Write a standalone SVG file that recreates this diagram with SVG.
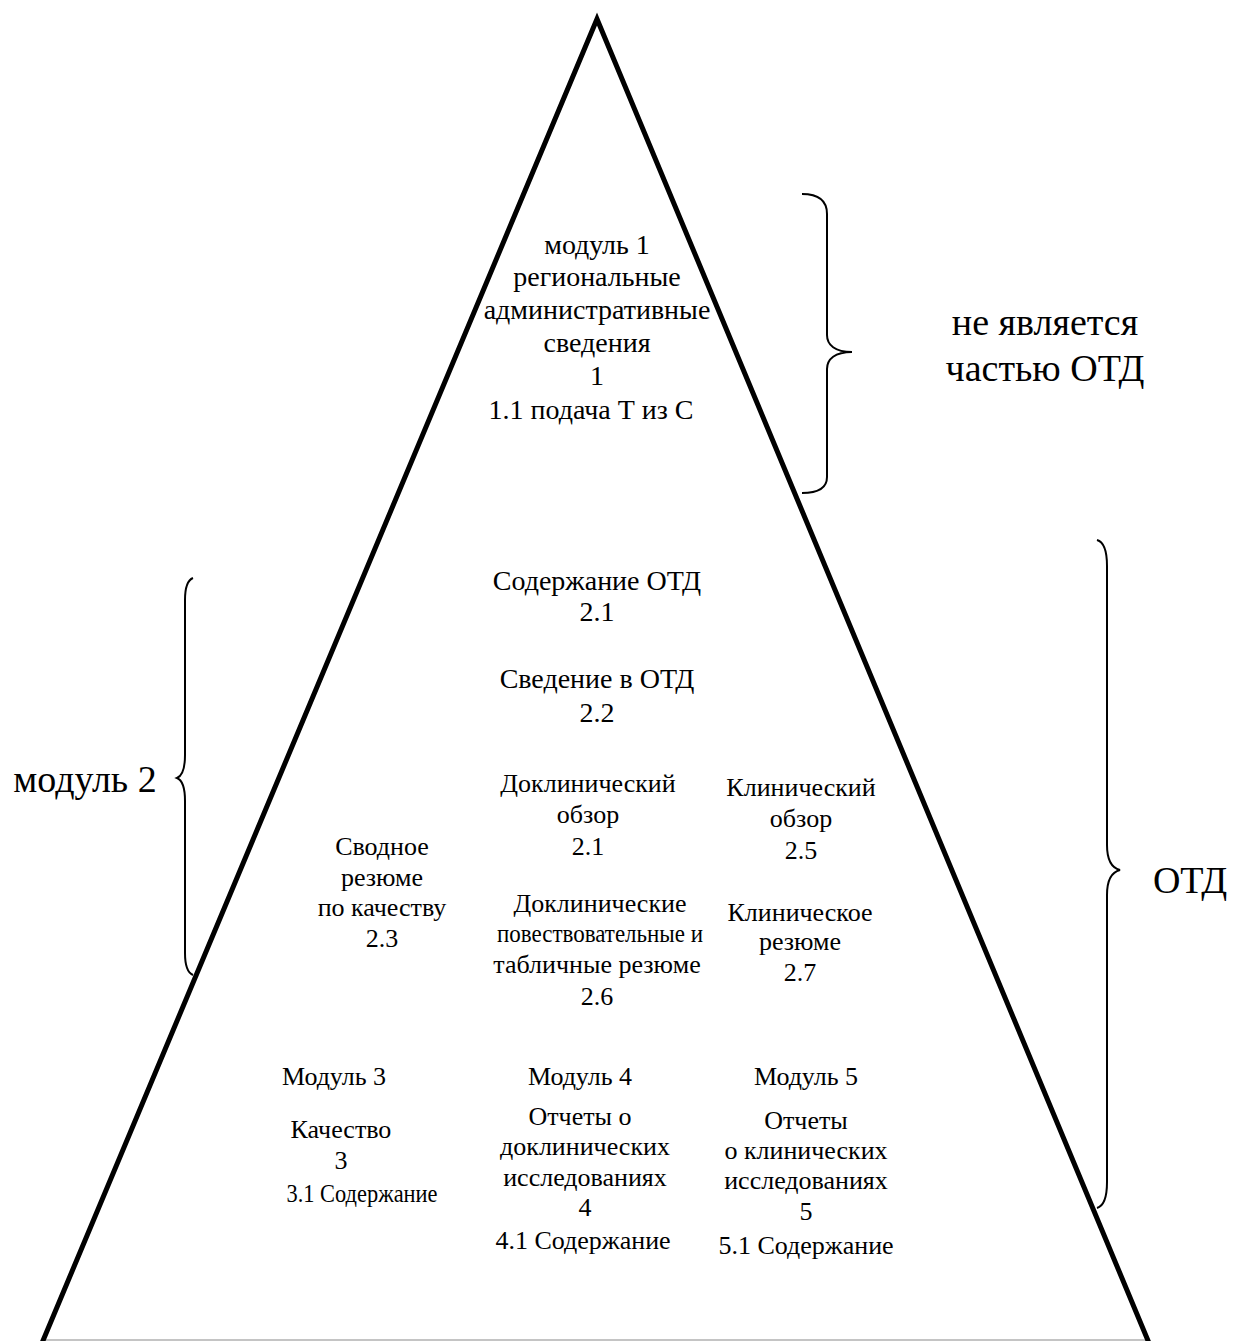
<svg xmlns="http://www.w3.org/2000/svg" width="1234" height="1341" viewBox="0 0 1234 1341">
<style>
  text { font-family: "Liberation Serif", "Times New Roman", serif; fill: #000; text-anchor: middle; }
  .t28 { font-size: 28px; }
  .t26 { font-size: 26px; }
  .big { font-size: 38px; }
  .brace { fill: none; stroke: #000; stroke-width: 2; }
  .tri { fill: none; stroke: #000; stroke-width: 5; stroke-linejoin: miter; stroke-miterlimit: 10; }
</style>
<rect width="1234" height="1341" fill="#fff"/>
<g id="connectors">
  <line x1="44" y1="1340" x2="1146" y2="1340" stroke="#b0b0b0" stroke-width="1.5"/>
  <path class="tri" d="M42,1343 L597,19 L1149,1343"/>
  <path class="brace" d="M802,194 C818,194 827,200 827,214 L827,335 C827,345 835,352 852,352 C835,352 827,359 827,369 L827,477 C827,488 818,493 802,493"/>
  <path class="brace" d="M1097,540 C1104,542 1107,552 1107,566 L1107,845 C1107,860 1112,868 1120,870 C1112,872 1107,880 1107,895 L1107,1182 C1107,1196 1104,1206 1097,1208"/>
  <path class="brace" d="M193,578 C188,580 185,588 185,600 L185,755 C185,770 182,776 177,778 C182,780 185,786 185,801 L185,953 C185,965 188,973 193,975"/>
</g>
<g id="module1">
  <text class="t28" x="597" y="254">модуль 1</text>
  <text class="t28" x="597" y="286">региональные</text>
  <text class="t28" x="597" y="319">административные</text>
  <text class="t28" x="597" y="352">сведения</text>
  <text class="t28" x="597" y="385">1</text>
  <text class="t28" x="591" y="419">1.1 подача Т из С</text>
</g>
<g id="not-part">
  <text class="big" x="1045" y="335">не является</text>
  <text class="big" x="1045" y="381">частью ОТД</text>
</g>
<g id="otd-label">
  <text class="big" x="1190" y="893">ОТД</text>
</g>
<g id="module2-label">
  <text class="big" x="85" y="792">модуль 2</text>
</g>
<g id="content-otd">
  <text class="t28" x="597" y="590">Содержание ОТД</text>
  <text class="t28" x="597" y="621">2.1</text>
</g>
<g id="intro-otd">
  <text class="t28" x="597" y="688">Сведение в ОТД</text>
  <text class="t28" x="597" y="722">2.2</text>
</g>
<g id="preclinical-overview">
  <text class="t26" x="588" y="792">Доклинический</text>
  <text class="t26" x="588" y="823">обзор</text>
  <text class="t26" x="588" y="855">2.1</text>
</g>
<g id="clinical-overview">
  <text class="t26" x="801" y="796">Клинический</text>
  <text class="t26" x="801" y="827">обзор</text>
  <text class="t26" x="801" y="859">2.5</text>
</g>
<g id="quality-summary">
  <text class="t26" x="382" y="855">Сводное</text>
  <text class="t26" x="382" y="886">резюме</text>
  <text class="t26" x="382" y="916">по качеству</text>
  <text class="t26" x="382" y="947">2.3</text>
</g>
<g id="preclinical-summaries">
  <text class="t26" x="600" y="912">Доклинические</text>
  <text class="t26" x="600" y="942" textLength="206" lengthAdjust="spacingAndGlyphs">повествовательные и</text>
  <text class="t26" x="597" y="973">табличные резюме</text>
  <text class="t26" x="597" y="1005">2.6</text>
</g>
<g id="clinical-summary">
  <text class="t26" x="800" y="921">Клиническое</text>
  <text class="t26" x="800" y="950">резюме</text>
  <text class="t26" x="800" y="981">2.7</text>
</g>
<g id="module3">
  <text class="t26" x="334" y="1085">Модуль 3</text>
  <text class="t26" x="341" y="1138">Качество</text>
  <text class="t26" x="341" y="1169">3</text>
  <text class="t26" x="362" y="1202" textLength="151" lengthAdjust="spacingAndGlyphs">3.1 Содержание</text>
</g>
<g id="module4">
  <text class="t26" x="580" y="1085">Модуль 4</text>
  <text class="t26" x="580" y="1125">Отчеты о</text>
  <text class="t26" x="585" y="1155">доклинических</text>
  <text class="t26" x="585" y="1186">исследованиях</text>
  <text class="t26" x="585" y="1216">4</text>
  <text class="t26" x="583" y="1249">4.1 Содержание</text>
</g>
<g id="module5">
  <text class="t26" x="806" y="1085">Модуль 5</text>
  <text class="t26" x="806" y="1129">Отчеты</text>
  <text class="t26" x="806" y="1159">о клинических</text>
  <text class="t26" x="806" y="1189">исследованиях</text>
  <text class="t26" x="806" y="1220">5</text>
  <text class="t26" x="806" y="1254">5.1 Содержание</text>
</g>
</svg>
